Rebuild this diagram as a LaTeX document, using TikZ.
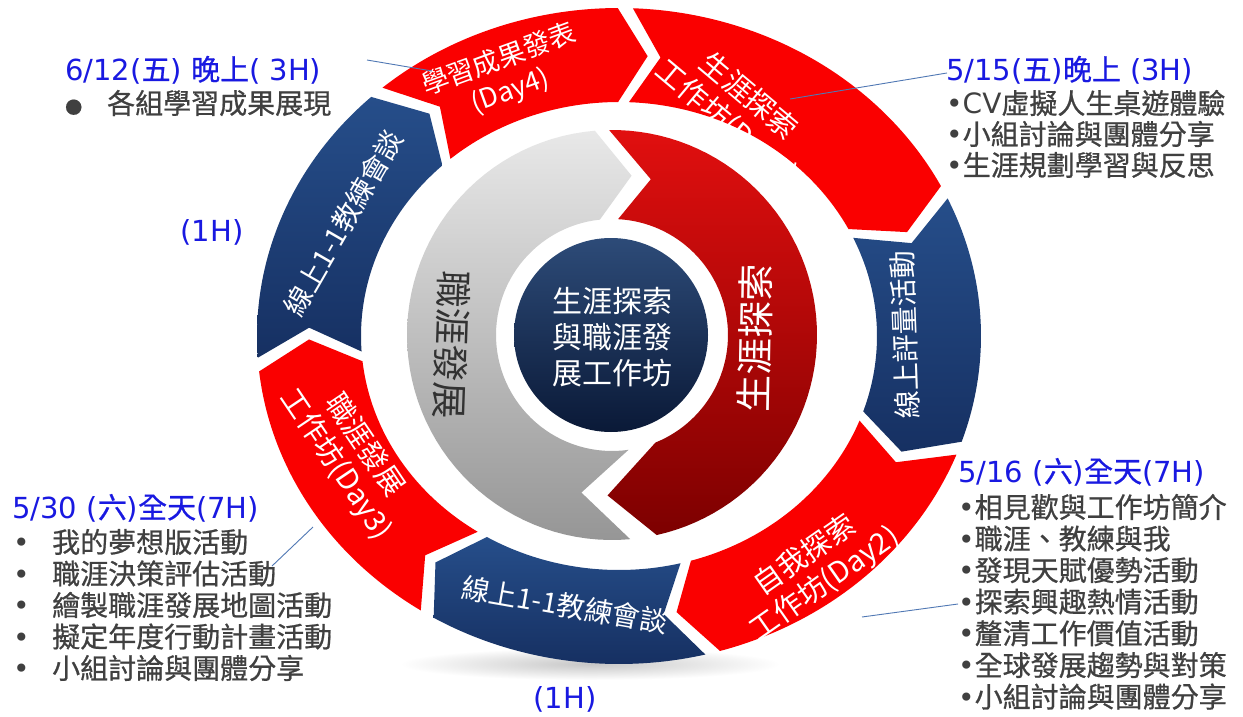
\documentclass[tikz,border=0pt]{standalone}
\usepackage{fontspec}
\setmainfont{Noto Sans CJK TC}
\newfontfamily\medf[FakeBold=0.7]{Noto Sans CJK TC}
\newfontfamily\latf{DejaVu Sans}
\newcommand{\Lt}[1]{{\latf #1}}
\newcommand{\bul}{{\latf •}}
\definecolor{ringred}{RGB}{250,0,0}
\definecolor{navyT}{RGB}{38,78,138}
\definecolor{navyB}{RGB}{22,48,98}
\definecolor{hblue}{RGB}{25,25,225}
\definecolor{itemgray}{RGB}{64,64,64}
\definecolor{leadc}{RGB}{80,120,180}
\definecolor{redT}{RGB}{225,15,15}
\definecolor{redB}{RGB}{125,0,0}
\definecolor{grayT}{RGB}{232,232,232}
\definecolor{grayB}{RGB}{150,150,150}
\definecolor{coreT}{RGB}{45,75,120}
\definecolor{coreB}{RGB}{10,25,55}
\definecolor{glabel}{RGB}{50,50,50}
\newcommand{\Rset}[7]{\def\Rcx{#1}\def\Rcy{#2}\def\Rxo{#3}\def\Ryo{#4}\def\Rxi{#5}\def\Ryi{#6}\def\Rg{#7}}
% args: 1 style, 2 tail outer, 3 tail inner, 4 tail notch, 5 head outer, 6 head inner, 7 head tip
\newcommand{\piece}[7]{%
 \pgfmathsetmacro{\Rxm}{(\Rxo+\Rxi)/2}%
 \pgfmathsetmacro{\Rym}{(\Ryo+\Ryi)/2}%
 \path[#1] plot[domain=#2:#5,samples=60,variable=\t] ({\Rcx+\Rxo*cos(\t)},{\Rcy-\Ryo*sin(\t)})
  -- ({\Rcx+\Rxm*cos(#7)},{\Rcy-\Rym*sin(#7)})
  -- plot[domain=#6:#3,samples=60,variable=\t] ({\Rcx+\Rxi*cos(\t)},{\Rcy-\Ryi*sin(\t)})
  -- ({\Rcx+\Rxm*cos(#4)},{\Rcy-\Rym*sin(#4)}) -- cycle;}
\newcommand{\opiece}[3]{%
 \pgfmathsetmacro{\Ta}{#2-\Rg}\pgfmathsetmacro{\Tb}{#2-\Rg-\Rd}%
 \pgfmathsetmacro{\Ha}{#3+\Rg}\pgfmathsetmacro{\Hb}{#3+\Rg-\Rd}%
 \piece{#1}{\Ta}{\Ta}{\Tb}{\Ha}{\Ha}{\Hb}}
\begin{document}
\begin{tikzpicture}[x=1pt,y=-1pt,
  seglabel/.style={text=white,font=\fontsize{29}{34}\selectfont,align=center,inner sep=0pt},
  innerlabel/.style={font=\fontsize{37}{40}\selectfont,inner sep=0pt},
  head/.style={text=hblue,font=\fontsize{29}{32}\medf,anchor=west,inner sep=0pt},
  item/.style={text=itemgray,font=\fontsize{28}{32}\medf,anchor=west,inner sep=0pt},
  leader/.style={draw=leadc,line width=0.9pt},
  redseg/.style={fill=ringred},
  navyseg/.style={top color=navyT,bottom color=navyB}]
\useasboundingbox (0,0) rectangle (1243,717);
\fill[white] (0,0) rectangle (1243,717);
% soft shadow under the ring
\path[inner color=black!22,outer color=white] (590,664) ellipse [x radius=190pt,y radius=16pt];
% outer ring
\Rset{619}{336}{362}{328}{258}{234}{1.2}\def\Rd{5.5}
\opiece{redseg}{89}{26}
\opiece{navyseg}{26}{-20}
\opiece{redseg}{-20}{-75}
\opiece{navyseg}{-75}{-122}
\opiece{redseg}{-122}{-175}
\opiece{navyseg}{185}{132}
\opiece{redseg}{132}{89}
% inner ring
\Rset{612}{335}{205}{205}{116}{116}{0}
\piece{top color=grayT,bottom color=grayB}{275.1}{278.2}{259}{94.8}{96}{83}
\piece{top color=redT,bottom color=redB}{90.8}{87}{76}{-77.4}{-68}{-91.6}
% core
\node[circle,minimum size=194pt,inner sep=0pt,top color=coreT,bottom color=coreB] (core) at (611,335) {};
\node[text=white,font=\fontsize{30}{36}\selectfont,align=center,inner sep=0pt] (coretxt) at (612,337) {生涯探索\\與職涯發\\展工作坊};
% inner labels
\node[innerlabel,text=white,rotate=89] (ir) at (755,338) {生涯探索};
\node[innerlabel,text=glabel,rotate=-92] (ig) at (452,345) {職涯發展};
% outer labels
\node[seglabel,font=\fontsize{27}{33}\selectfont,rotate=20] (t4) at (505,76) {學習成果發表\\(Day4)};
\node[seglabel,rotate=-40] (t1) at (737,110) {生涯探索\\工作坊(Day1)};
\node[seglabel,font=\fontsize{28}{33}\selectfont,rotate=92] (tr) at (905,335) {線上評量活動};
\node[seglabel,rotate=35] (t2) at (815,570) {自我探索\\工作坊(Day2)};
\node[seglabel,font=\fontsize{28}{33}\selectfont,rotate=-10] (tb) at (565,605) {線上1-1教練會談};
\node[seglabel,rotate=-56] (t3) at (350,455) {職涯發展\\工作坊(Day3)};
\node[seglabel,font=\fontsize{28}{33}\selectfont,rotate=60] (tl) at (343,223) {線上1-1教練會談};
% text blocks
\node[head] (h1) at (65,70) {\Lt{6/12(}五\Lt{) }晚上\Lt{( 3H)}};
\node[item] (i1) at (65,103) {\makebox[42pt][l]{\fontsize{17}{17}\selectfont ●}各組學習成果展現};
\node[head] (h2) at (946,70) {\Lt{5/15(}五\Lt{)}晚上\Lt{ (3H)}};
\node[item] (r1) at (946,103) {\bul\Lt{CV}虛擬人生桌遊體驗};
\node[item] (r2) at (946,134) {\bul 小組討論與團體分享};
\node[item] (r3) at (946,165) {\bul 生涯規劃學習與反思};
\node[head] (h3) at (958,472) {\Lt{5/16 (}六\Lt{)}全天\Lt{(7H)}};
\foreach \s [count=\i] in {相見歡與工作坊簡介,職涯、教練與我,發現天賦優勢活動,探索興趣熱情活動,釐清工作價值活動,全球發展趨勢與對策,小組討論與團體分享}
  \node[item] (b\i) at (958,{475.4+31.6*\i}) {\bul\s};
\node[head] (h4) at (12,508) {\Lt{5/30 (}六\Lt{)}全天\Lt{(7H)}};
\foreach \s [count=\i] in {我的夢想版活動,職涯決策評估活動,繪製職涯發展地圖活動,擬定年度行動計畫活動,小組討論與團體分享}
  \node[item] (l\i) at (13,{510.5+31.5*\i}) {\makebox[39pt][l]{\bul}\s};
\node[head,anchor=center] (h5) at (212,232) {\Lt{(1H)}};
\node[head,anchor=center] (h6) at (565,699) {\Lt{(1H)}};
% leader lines
\coordinate (a1) at (367,60); \coordinate (a2) at (432,71);
\coordinate (b1) at (947,73); \coordinate (b2) at (790,99);
\coordinate (c1) at (313,527); \coordinate (c2) at (272,566);
\coordinate (d1) at (958,604); \coordinate (d2) at (862,617);
\draw[leader] (a1) -- (a2);
\draw[leader] (b1) -- (b2);
\draw[leader] (c1) -- (c2);
\draw[leader] (d1) -- (d2);
\end{tikzpicture}
\end{document}
